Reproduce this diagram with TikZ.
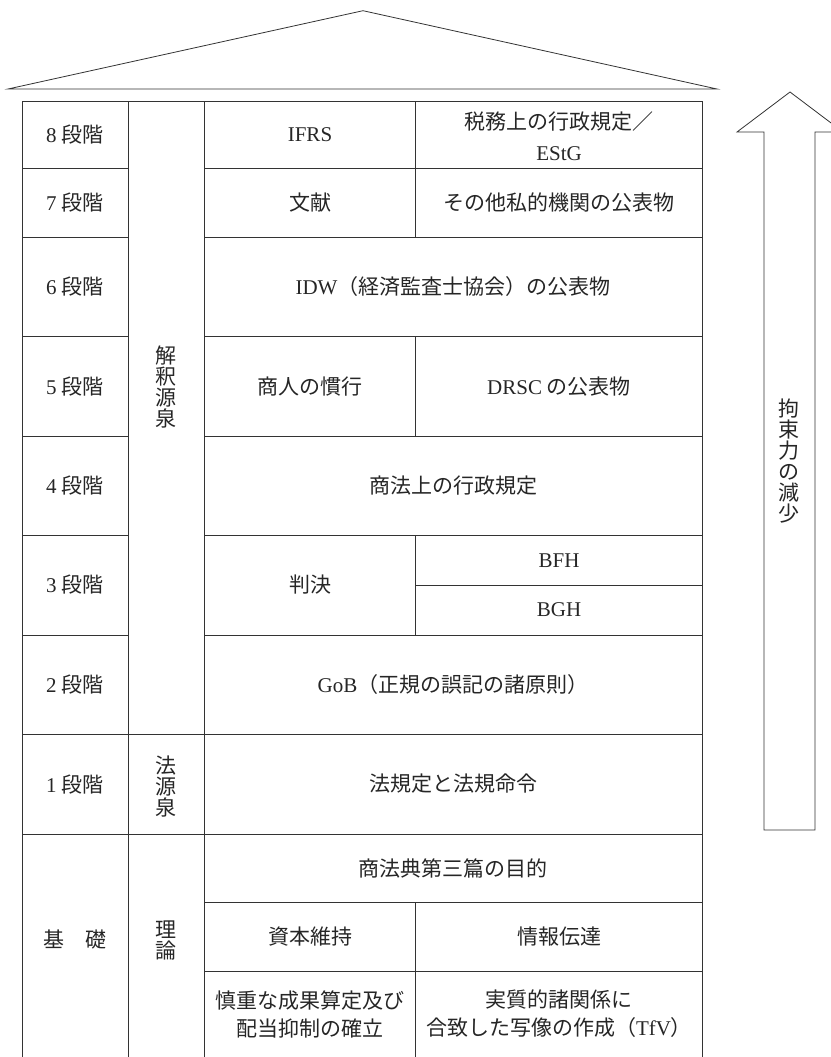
\documentclass[tikz,border=0pt]{standalone}
\usepackage{fontspec}
\setmainfont{Noto Sans CJK JP}
\newfontfamily\lat{Liberation Serif}
\usetikzlibrary{positioning}

\begin{document}
\begin{tikzpicture}[x=1pt,y=-1pt,line width=0.8pt,
  grid line/.style={draw=black!80},
  cell/.style={font=\fontsize{21}{31}\selectfont,align=center,inner sep=0pt,text=black!85},
  tate/.style={font=\fontsize{21}{21}\selectfont,align=center,inner sep=0pt,text=black!85}]
\useasboundingbox (0,0) rectangle (830,1057);

% roof
\draw[grid line] (8,89) -- (363,10.7) -- (717,89) -- cycle;

% frame and columns
\draw[grid line] (22.7,1060) -- (22.7,101.7) -- (702.7,101.7) -- (702.7,1060);
\foreach \x in {128.3,204} \draw[grid line] (\x,101.7) -- (\x,1060);
\foreach \y in {168.5,237.3,336.7,436.3,535.3,635} {
  \draw[grid line] (22.7,\y) -- (128.3,\y);
  \draw[grid line] (204,\y) -- (702.7,\y);
}
\foreach \y in {734.3,834} \draw[grid line] (22.7,\y) -- (702.7,\y);
\foreach \y in {902,971} \draw[grid line] (204,\y) -- (702.7,\y);
\draw[grid line] (415.5,101.7) -- (415.5,237.3);
\draw[grid line] (415.5,336.7) -- (415.5,436.3);
\draw[grid line] (415.5,535.3) -- (415.5,635);
\draw[grid line] (415.5,585.3) -- (702.7,585.3);
\draw[grid line] (415.5,902) -- (415.5,1060);

% stages
\foreach \n/\y in {8/135,7/203,6/287,5/386.5,4/486,3/585,2/684.7,1/784.2}
  \node[cell] (s\n) at (75,\y) {{\lat\n~}段階};
\node[cell] (kiso) at (75,940) {基　礎};
\node[tate] (kaishaku) at (166,387) {解\\釈\\源\\泉};
\node[tate] (hogen) at (166,787) {法\\源\\泉};
\node[tate] (riron) at (166,940) {理\\論};

% contents
\node[cell] (ifrs) at (310,135) {\lat IFRS};
\node[cell] (estg) at (559,136) {税務上の行政規定／\\{\lat EStG}};
\node[cell] (bunken) at (310,203) {文献};
\node[cell] (other) at (559,203) {その他私的機関の公表物};
\node[cell] (idw) at (453,287) {{\lat IDW}（経済監査士協会）の公表物};
\node[cell] (shonin) at (310,386.5) {商人の慣行};
\node[cell] (drsc) at (559,386.5) {{\lat DRSC} の公表物};
\node[cell] (gyosei) at (453,486) {商法上の行政規定};
\node[cell] (hanketsu) at (310,585) {判決};
\node[cell] (bfh) at (559,560.3) {\lat BFH};
\node[cell] (bgh) at (559,610) {\lat BGH};
\node[cell] (gob) at (453,685) {{\lat GoB}（正規の誤記の諸原則）};
\node[cell] (hoki) at (453,784) {法規定と法規命令};
\node[cell] (mokuteki) at (453,868) {商法典第三篇の目的};
\node[cell] (shihon) at (310,936.5) {資本維持};
\node[cell] (joho) at (559,936.5) {情報伝達};
\node[cell,font=\fontsize{21}{28}\selectfont] (shincho) at (310,1014) {慎重な成果算定及び\\配当抑制の確立};
\node[cell,font=\fontsize{21}{28}\selectfont] (jisshitsu) at (559,1014) {実質的諸関係に\\合致した写像の作成（{\lat TfV}）};

% arrow
\draw[grid line] (764,830) -- (764,132) -- (737,132) -- (790,92) -- (843,132)
  -- (815,132) -- (815,830) -- cycle;
\node[tate] (kosoku) at (789,461) {拘\\束\\力\\の\\減\\少};
\end{tikzpicture}
\end{document}
